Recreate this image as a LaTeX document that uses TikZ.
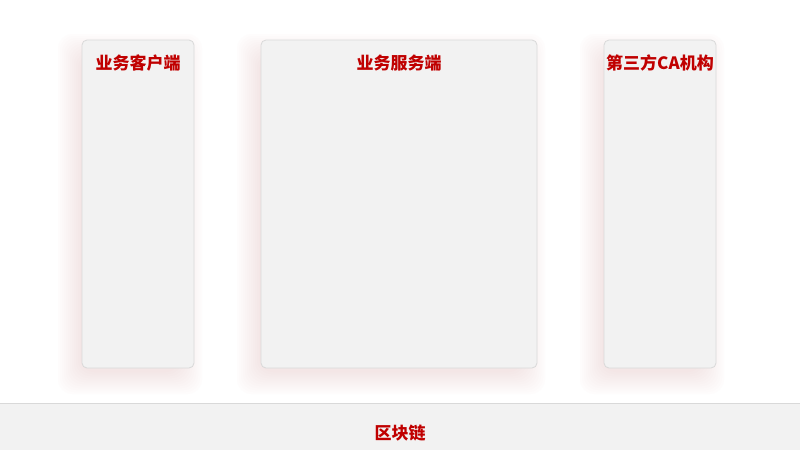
\documentclass[tikz,border=0pt]{standalone}
\usepackage{fontspec}
\newfontfamily\cjk{Noto Sans CJK SC}
\definecolor{boxfill}{HTML}{F2F2F2}
\definecolor{boxline}{HTML}{D9D9D9}
\definecolor{titlered}{HTML}{C00000}
\definecolor{glow}{HTML}{F4A8A8}
\tikzset{
  panel/.style={draw=boxline, line width=0.8pt, fill=boxfill, rounded corners=5pt},
  glowlayer/.style={fill=glow, fill opacity=0.025, draw=none, rounded corners=14pt},
  paneltitle/.style={text=titlered, font=\cjk\bfseries\fontsize{17}{19}\selectfont, inner sep=0pt},
}
\newcommand{\glowbox}[4]{%
  \foreach \i in {0,2,...,22}{%
    \fill[glowlayer] ({#1-8-16+\i},{#2+10-16+\i}) rectangle ({#3-8+16-\i},{#4+10+16-\i});
  }%
}
\begin{document}
\begin{tikzpicture}[x=1pt,y=-1pt]
\useasboundingbox (0,0) rectangle (800,450);
\fill[white] (0,0) rectangle (800,450);
\glowbox{82}{40}{194}{368}
\glowbox{261}{40}{537}{368}
\glowbox{604}{40}{716}{368}
\path[panel] (82,40) rectangle (194,368);
\path[panel] (261,40) rectangle (537,368);
\path[panel] (604,40) rectangle (716,368);
\node[paneltitle] (t1) at (138,63) {业务客户端};
\node[paneltitle] (t2) at (399,63) {业务服务端};
\node[paneltitle] (t3) at (660,63) {第三方CA机构};
\fill[boxfill] (0,403) rectangle (800,450);
\draw[boxline, line width=1pt] (0,403) -- (800,403);
\node[paneltitle] (chain) at (400,433) {区块链};
\end{tikzpicture}
\end{document}
